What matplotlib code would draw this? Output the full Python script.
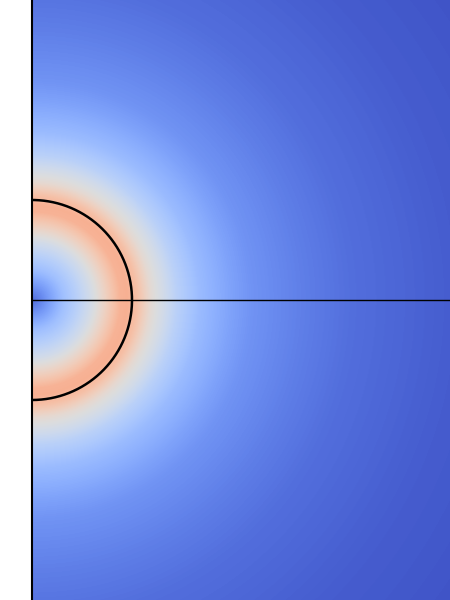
import numpy as np
import matplotlib
matplotlib.use("Agg")
import matplotlib.pyplot as plt

# radial profile of the field (distance from centre in units of R -> colour value)
radius = [0.0, 0.1, 0.3, 0.45, 0.58, 0.73, 0.88, 0.95, 1.05, 1.18, 1.33, 1.45, 1.68, 2.0, 2.2, 2.7, 3.2, 3.7, 4.2, 5.2]
level = [0.08, 0.15, 0.30, 0.38, 0.46, 0.57, 0.68, 0.69, 0.64, 0.53, 0.45, 0.38, 0.29, 0.21, 0.17, 0.12, 0.08, 0.06, 0.04, 0.02]

ring_radius = 1.0
x_max = 4.18
y_max = 3.0

# field on a grid
xs = np.linspace(0, x_max, 420)
ys = np.linspace(-y_max, y_max, 600)
X, Y = np.meshgrid(xs, ys)
S = np.sqrt(X**2 + Y**2)
field = np.interp(S, radius, level)

fig = plt.figure(figsize=(4.5, 6), dpi=100)
ax = fig.add_axes([32 / 450, 0, 418 / 450, 1])
ax.imshow(field, cmap="coolwarm", vmin=0, vmax=1, origin="lower",
          extent=[0, x_max, -y_max, y_max], aspect="auto", interpolation="bilinear")

# ring outline
theta = np.linspace(-np.pi / 2, np.pi / 2, 400)
ax.plot(ring_radius * np.cos(theta), ring_radius * np.sin(theta), color="black", lw=1.8)

# symmetry axis
ax.axhline(0, color="black", lw=1)

ax.set_xlim(0, x_max)
ax.set_ylim(-y_max, y_max)
ax.set_xticks([])
ax.set_yticks([])
for side in ["top", "right", "bottom"]:
    ax.spines[side].set_visible(False)
ax.spines["left"].set_linewidth(1.5)

fig.savefig("out.png", dpi=100)
